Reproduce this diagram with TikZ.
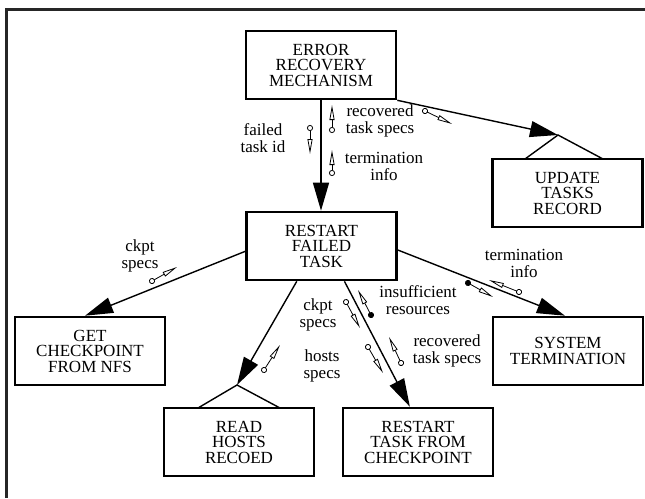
\documentclass[tikz,border=0pt]{standalone}
\usepackage{fontspec}
\setmainfont{Liberation Serif}
\usetikzlibrary{arrows.meta}
\begin{document}
\begin{tikzpicture}[x=1pt,y=-1pt,
  module/.style={draw,line width=2.6pt,minimum width=150pt,minimum height=68pt,align=center,inner sep=0pt,font=\fontsize{17}{15.5}\selectfont},
  conn/.style={line width=1.4pt,-{Triangle[length=28pt,width=16pt]}},
  lbl/.style={align=center,inner sep=0pt,font=\fontsize{17}{17}\selectfont},
  dcouple/.style={line width=0.8pt,{Circle[open,length=6pt,width=6pt]}-{Triangle[open,length=15pt,width=5pt]}},
  fcouple/.style={line width=0.8pt,{Circle[length=6pt,width=6pt]}-{Triangle[open,length=15pt,width=5pt]}},
  libmark/.style={line width=1.4pt},
  frameline/.style={line width=2.2pt,black!85}
]
\useasboundingbox (0,0) rectangle (645,498);
\draw[frameline] (6.5,498) -- (6.5,9.5) -- (645,9.5);

% modules
\node[module] (erm)  at (321,65)    {ERROR\\RECOVERY\\MECHANISM};
\node[module] (utr)  at (567.5,193) {UPDATE\\TASKS\\RECORD};
\node[module] (rft)  at (321.5,246) {RESTART\\FAILED\\TASK};
\node[module] (gcfn) at (90,351)    {GET\\CHECKPOINT\\FROM NFS};
\node[module] (rhr)  at (239,442)   {READ\\HOSTS\\RECOED};
\node[module] (rtfc) at (418,442)   {RESTART\\TASK FROM\\CHECKPOINT};
\node[module] (st)   at (568,351)   {SYSTEM\\TERMINATION};

% library-module marks
\coordinate (utrApex) at (558,135);
\coordinate (rhrApex) at (237,385);
\draw[libmark] (525,159) -- (utrApex) -- (603,159);
\draw[libmark] (198,408) -- (rhrApex) -- (280,408);

% connectors
\draw[conn] (erm.south) -- (erm.south |- rft.north);
\draw[conn] (erm.south east) -- (utrApex);
\draw[conn] (rft.184) -- (gcfn.98);
\draw[conn] (rft.357) -- (st.95);
\draw[conn] (rft.235) -- (rhrApex);
\draw[conn] (rft.303) -- (rtfc.103);

% data couples
\coordinate (c1a) at (310,125);   \coordinate (c1b) at (310,154);
\coordinate (c2a) at (332,133);   \coordinate (c2b) at (332,105);
\coordinate (c3a) at (332,176);   \coordinate (c3b) at (332,150);
\coordinate (c4a) at (422.3,109.7); \coordinate (c4b) at (452,124);
\coordinate (c5a) at (149.4,282.5); \coordinate (c5b) at (177,267);
\coordinate (c6a) at (372.4,317.7); \coordinate (c6b) at (358,290);
\coordinate (c7a) at (344.6,299.4); \coordinate (c7b) at (360,328);
\coordinate (c8a) at (366.5,344.4); \coordinate (c8b) at (383,373);
\coordinate (c9a) at (402.3,365.7); \coordinate (c9b) at (389,337);
\coordinate (c10a) at (262.4,372.5); \coordinate (c10b) at (280,345);
\coordinate (c11a) at (521.8,293.1); \coordinate (c11b) at (489,280);
\coordinate (c12a) at (465.4,281.5); \coordinate (c12b) at (493,297);

\draw[dcouple] (c1a) -- (c1b);
\draw[dcouple] (c2a) -- (c2b);
\draw[dcouple] (c3a) -- (c3b);
\draw[dcouple] (c4a) -- (c4b);
\draw[dcouple] (c5a) -- (c5b);
\draw[fcouple] (c6a) -- (c6b);
\draw[dcouple] (c7a) -- (c7b);
\draw[dcouple] (c8a) -- (c8b);
\draw[dcouple] (c9a) -- (c9b);
\draw[dcouple] (c10a) -- (c10b);
\draw[dcouple] (c11a) -- (c11b);
\draw[fcouple] (c12a) -- (c12b);

% labels
\node[lbl] (l1)  at (263,138) {failed\\task id};
\node[lbl] (l2)  at (380,121) {recovered\\task specs};
\node[lbl] (l3)  at (384,166) {termination\\info};
\node[lbl] (l4)  at (140,256) {ckpt\\specs};
\node[lbl] (l5)  at (318,315) {ckpt\\specs};
\node[lbl] (l6)  at (322,366) {hosts\\specs};
\node[lbl] (l7)  at (418,300) {insufficient\\resources};
\node[lbl] (l8)  at (447,351) {recovered\\task specs};
\node[lbl] (l9)  at (524,263) {termination\\info};
\end{tikzpicture}
\end{document}
